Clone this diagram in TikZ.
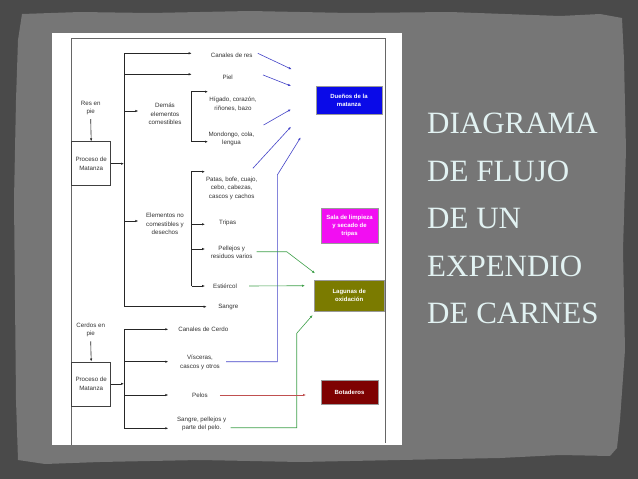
\documentclass[tikz,border=0pt]{standalone}
\usepackage{fontspec}
\setmainfont{Liberation Serif}
\setsansfont{Liberation Sans}
\usetikzlibrary{arrows.meta}
\definecolor{outerbg}{HTML}{4A4A4A}
\definecolor{panelbg}{HTML}{767676}
\definecolor{titlecol}{HTML}{E2F2F2}
\definecolor{frameln}{HTML}{666666}
\definecolor{txtgray}{HTML}{333333}
\definecolor{bluel}{HTML}{4444C8}
\definecolor{greenl}{HTML}{3FA04A}
\definecolor{redl}{HTML}{C05050}
\definecolor{duenoscol}{HTML}{0A0AE8}
\definecolor{salacol}{HTML}{F20EF2}
\definecolor{lagunacol}{HTML}{7B7B00}
\definecolor{botacol}{HTML}{7E0202}
\begin{document}
\begin{tikzpicture}[x=1pt,y=-1pt,
  lbl/.style={font=\sffamily\fontsize{6.2}{8.3}\selectfont, text=txtgray, align=center, inner sep=0pt},
  procbox/.style={draw=black!75, line width=0.6pt, fill=white, minimum width=39pt, minimum height=44pt,
     font=\sffamily\fontsize{6.2}{8.3}\selectfont, text=txtgray, align=center, inner sep=0pt},
  destbox/.style={draw=black!40, line width=0.4pt, font=\sffamily\bfseries\fontsize{6}{8}\selectfont,
     text=white, align=center, inner sep=0pt},
  con/.style={draw=black!85, line width=0.6pt, -{Latex[length=3pt,width=2.4pt]}},
  bluearr/.style={draw=bluel, line width=0.6pt, -{Latex[length=3pt,width=2.4pt]}},
  greenarr/.style={draw=greenl, line width=0.6pt, -{Latex[length=3pt,width=2.4pt]}},
  redarr/.style={draw=redl, line width=0.6pt, -{Latex[length=3pt,width=2.4pt]}},
  title/.style={font=\fontsize{31}{36}\selectfont, text=titlecol, anchor=base west, inner sep=0pt}
]
\useasboundingbox (0,0) rectangle (638,479);
% background
\fill[outerbg] (0,0) rectangle (638,479);
\fill[panelbg] (22,14) -- (80,12) -- (150,13) -- (250,11) -- (350,13) -- (450,12) -- (560,16)
  -- (600,14) -- (622,18) -- (624,60) -- (626,150) -- (623,250) -- (625,350) -- (620,420)
  -- (617,448) -- (610,456) -- (560,455) -- (500,458) -- (400,460) -- (300,462) -- (200,460)
  -- (100,462) -- (45,464) -- (18,460) -- (16,400) -- (15,300) -- (14,200) -- (16,100) -- (18,40) -- cycle;
% white sheet and frame
\fill[white] (52,33) rectangle (402,445);
\draw[frameln, line width=0.9pt] (71,445) -- (71,38.5) -- (385,38.5) -- (385,443);

% title
\node[title] (t1) at (427,133.3) {DIAGRAMA};
\node[title] (t2) at (427,181.7) {DE FLUJO};
\node[title] (t3) at (427,228.3) {DE UN};
\node[title] (t4) at (427,276.7) {EXPENDIO};
\node[title] (t5) at (427,323.3) {DE CARNES};

% ---------- Res branch ----------
\node[lbl] (res) at (90.7,108) {Res en\\pie};
\node[procbox] (pm1) at (91.2,163.7) {Proceso de\\Matanza};
\draw[con] ([yshift=-4pt]res.south) -- (pm1.north);

\coordinate (v1top) at (124,53.3);
\coordinate (v1bot) at (124,306.7);
\coordinate (a1) at (191.7,53.3);
\coordinate (j2) at (124,74.3);
\coordinate (a2) at (191.7,74.3);
\coordinate (j3) at (124,111);
\coordinate (a3) at (138.3,111);
\coordinate (j4) at (124,221);
\coordinate (a4) at (138.3,221);
\coordinate (a5) at (206.7,306.7);

\draw[con] (v1top) -- (a1);
\draw[con] (j2) -- (a2);
\draw[con] (j3) -- (a3);
\draw[con] (j4) -- (a4);
\draw[con] (v1top) -- (v1bot) -- (a5);
\draw[con] (pm1.east) -- (pm1.east -| v1top);

\node[lbl] (canres) at (231.7,55.7) {Canales de res};
\node[lbl] (piel) at (227.7,77.7) {Piel};
\node[lbl] (dem) at (165,114) {Demás\\elementos\\comestibles};
\node[lbl] (higado) at (233,104.2) {Hígado, corazón,\\riñones, bazo};
\node[lbl] (mondongo) at (231.5,138.8) {Mondongo, cola,\\lengua};
\node[lbl] (elem) at (165,224) {Elementos no\\comestibles y\\desechos};
\node[lbl] (patas) at (231.7,188.3) {Patas, bofe, cuajo,\\cebo, cabezas,\\cascos y cachos};
\node[lbl] (tripas) at (227.7,223.3) {Tripas};
\node[lbl] (pellejos) at (231.7,252) {Pellejos y\\residuos varios};
\node[lbl] (estiercol) at (225,286) {Estiércol};
\node[lbl] (sangre) at (228.3,306.5) {Sangre};

% bracket comestibles
\coordinate (b1t) at (191.7,91.7);
\coordinate (b1b) at (191.7,141.7);
\coordinate (h1) at (208,91.7);
\coordinate (h2) at (208,141.7);
\draw[con] (b1b) -- (b1t) -- (h1);
\draw[con] (b1b) -- (h2);

% bracket no comestibles
\coordinate (b2t) at (191.7,171.7);
\coordinate (b2m1) at (191.7,224.3);
\coordinate (b2m2) at (191.7,249);
\coordinate (b2b) at (191.7,286);
\coordinate (p1) at (205,171.7);
\coordinate (p2) at (205,224.3);
\coordinate (p3) at (205,249);
\coordinate (p4) at (205,286);
\draw[con] (b2b) -- (b2t) -- (p1);
\draw[con] (b2m1) -- (p2);
\draw[con] (b2m2) -- (p3);
\draw[con] (b2b) -- (p4);

% ---------- Cerdos branch ----------
\node[lbl] (cerdos) at (90.7,330.2) {Cerdos en\\pie};
\node[procbox] (pm2) at (91.2,383.8) {Proceso de\\Matanza};
\draw[con] ([yshift=-4pt]cerdos.south) -- (pm2.north);

\coordinate (v2top) at (124,329.3);
\coordinate (v2bot) at (124,428.3);
\coordinate (c1) at (168.3,329.3);
\coordinate (k2) at (124,361.7);
\coordinate (c2) at (168.3,361.7);
\coordinate (k3) at (124,395);
\coordinate (c3) at (168.3,395);
\coordinate (c4) at (168.3,428.3);
\draw[con] (v2top) -- (c1);
\draw[con] (k2) -- (c2);
\draw[con] (k3) -- (c3);
\draw[con] (v2top) -- (v2bot) -- (c4);
\draw[con] (pm2.east) -- (pm2.east -| v2top);

\node[lbl] (cancer) at (203.3,329.3) {Canales de Cerdo};
\node[lbl] (visceras) at (200,362.5) {Vísceras,\\cascos y otros};
\node[lbl] (pelos) at (200,395) {Pelos};
\node[lbl] (sangre2) at (201.7,424.2) {Sangre, pellejos y\\parte del pelo.};

% ---------- destination boxes ----------
\node[destbox, fill=duenoscol, minimum width=66.6pt, minimum height=27.3pt] (duenos) at (349,100.3) {Dueños de la\\matanza};
\node[destbox, fill=salacol, minimum width=57.6pt, minimum height=35.6pt] (sala) at (349.5,225.5) {Sala de limpieza\\y secado de\\tripas};
\node[destbox, fill=lagunacol, minimum width=69.7pt, minimum height=30.3pt] (lagunas) at (349.2,295.8) {Lagunas de\\oxidación};
\node[destbox, fill=botacol, minimum width=57.6pt, minimum height=23.3pt] (bota) at (349.5,392.3) {Botaderos};

% ---------- coloured flows ----------
\coordinate (e1) at (291.7,69.3);
\coordinate (e2) at (291,86);
\coordinate (e3) at (291,109.3);
\coordinate (e4) at (291,126.7);
\coordinate (e5) at (300.7,137.3);
\draw[bluearr] ([shift={(5pt,2.4pt)}]canres.east) -- (e1);
\draw[bluearr] ([shift={(30pt,2.7pt)}]piel.east) -- (e2);
\draw[bluearr] ([shift={(9pt,13.8pt)}]mondongo.east) -- (e3);
\draw[bluearr] ([shift={(-4.7pt,20pt)}]patas.east) -- (e4);
\coordinate (vb1) at (277.3,361.7);
\coordinate (vb2) at (277.3,175);
\draw[bluearr] ([xshift=6pt]visceras.east |- vb1) -- (vb1) -- (vb2) -- (e5);

\coordinate (g1) at (286.7,251.7);
\coordinate (g1e) at (315,273.3);
\draw[greenarr] ([shift={(4pt,0.3pt)}]pellejos.east) -- (g1) -- (g1e);
\coordinate (g2e) at (305,285.7);
\draw[greenarr] ([xshift=12pt]estiercol.east) -- (g2e);
\coordinate (g3a) at (296.7,427.7);
\coordinate (g3b) at (296.7,333.3);
\coordinate (g3e) at (312.7,315);
\draw[greenarr] ([xshift=4pt]sangre2.east |- g3a) -- (g3a) -- (g3b) -- (g3e);

\coordinate (r1e) at (306,395);
\draw[redarr] ([xshift=12pt]pelos.east) -- (r1e);
\end{tikzpicture}
\end{document}
